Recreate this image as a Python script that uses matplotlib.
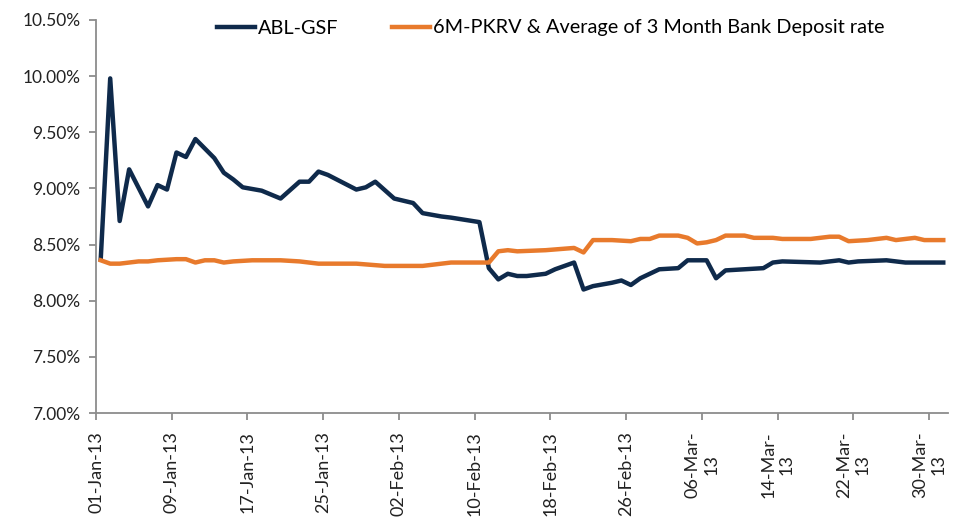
import numpy as np
import pandas as pd
import matplotlib
matplotlib.use("Agg")
import matplotlib.pyplot as plt

# ABL-GSF yield (%), daily points
abl_dates = ["2013-01-01", "2013-01-02", "2013-01-03", "2013-01-04", "2013-01-06", "2013-01-07",
             "2013-01-08", "2013-01-09", "2013-01-10", "2013-01-11", "2013-01-13", "2013-01-14",
             "2013-01-15", "2013-01-16", "2013-01-18", "2013-01-20", "2013-01-22", "2013-01-23",
             "2013-01-24", "2013-01-25", "2013-01-28", "2013-01-29", "2013-01-30", "2013-02-01",
             "2013-02-03", "2013-02-04", "2013-02-06", "2013-02-07", "2013-02-10", "2013-02-11",
             "2013-02-12", "2013-02-13", "2013-02-14", "2013-02-15", "2013-02-17", "2013-02-18",
             "2013-02-19", "2013-02-20", "2013-02-21", "2013-02-22", "2013-02-24", "2013-02-25",
             "2013-02-26", "2013-02-27", "2013-03-01", "2013-03-03", "2013-03-04", "2013-03-06",
             "2013-03-07", "2013-03-08", "2013-03-10", "2013-03-12", "2013-03-13", "2013-03-14",
             "2013-03-18", "2013-03-20", "2013-03-21", "2013-03-22", "2013-03-25", "2013-03-27",
             "2013-03-31"]
abl_vals = [8.37, 9.98, 8.71, 9.17, 8.84, 9.03,
            8.99, 9.32, 9.28, 9.44, 9.27, 9.14,
            9.08, 9.01, 8.98, 8.91, 9.06, 9.06,
            9.15, 9.12, 8.99, 9.01, 9.06, 8.91,
            8.87, 8.78, 8.75, 8.74, 8.70, 8.29,
            8.19, 8.24, 8.22, 8.22, 8.24, 8.28,
            8.31, 8.34, 8.10, 8.13, 8.16, 8.18,
            8.14, 8.20, 8.28, 8.29, 8.36, 8.36,
            8.20, 8.27, 8.28, 8.29, 8.34, 8.35,
            8.34, 8.36, 8.34, 8.35, 8.36, 8.34,
            8.34]

# benchmark: 6M-PKRV & average of 3 month bank deposit rate (%)
bench_dates = ["2013-01-01", "2013-01-02", "2013-01-03", "2013-01-05", "2013-01-06", "2013-01-07",
               "2013-01-09", "2013-01-10", "2013-01-11", "2013-01-12", "2013-01-13", "2013-01-14",
               "2013-01-15", "2013-01-17", "2013-01-20", "2013-01-22", "2013-01-24", "2013-01-28",
               "2013-01-31", "2013-02-03", "2013-02-04", "2013-02-07", "2013-02-11", "2013-02-12",
               "2013-02-13", "2013-02-14", "2013-02-17", "2013-02-20", "2013-02-21", "2013-02-22",
               "2013-02-24", "2013-02-26", "2013-02-27", "2013-02-28", "2013-03-01", "2013-03-03",
               "2013-03-04", "2013-03-05", "2013-03-06", "2013-03-07", "2013-03-08", "2013-03-10",
               "2013-03-11", "2013-03-13", "2013-03-14", "2013-03-17", "2013-03-19", "2013-03-20",
               "2013-03-21", "2013-03-23", "2013-03-25", "2013-03-26", "2013-03-28", "2013-03-29",
               "2013-03-31"]
bench_vals = [8.36, 8.33, 8.33, 8.35, 8.35, 8.36,
              8.37, 8.37, 8.34, 8.36, 8.36, 8.34,
              8.35, 8.36, 8.36, 8.35, 8.33, 8.33,
              8.31, 8.31, 8.31, 8.34, 8.34, 8.44,
              8.45, 8.44, 8.45, 8.47, 8.43, 8.54,
              8.54, 8.53, 8.55, 8.55, 8.58, 8.58,
              8.56, 8.51, 8.52, 8.54, 8.58, 8.58,
              8.56, 8.56, 8.55, 8.55, 8.57, 8.57,
              8.53, 8.54, 8.56, 8.54, 8.56, 8.54,
              8.54]

tick_dates = ["2013-01-01", "2013-01-09", "2013-01-17", "2013-01-25", "2013-02-02", "2013-02-10",
              "2013-02-18", "2013-02-26", "2013-03-06", "2013-03-14", "2013-03-22", "2013-03-30"]
tick_labels = ["01-Jan-13", "09-Jan-13", "17-Jan-13", "25-Jan-13", "02-Feb-13", "10-Feb-13",
               "18-Feb-13", "26-Feb-13", "06-Mar-\n13", "14-Mar-\n13", "22-Mar-\n13", "30-Mar-\n13"]
y_ticks = [7.0, 7.5, 8.0, 8.5, 9.0, 9.5, 10.0, 10.5]

plt.rcParams['font.family'] = ['Lato', 'DejaVu Sans']

navy = '#0F2A4B'
orange = '#E87A2C'
grey = '#8C8C8C'

# Excel date axis puts each point in the middle of its day
half = pd.Timedelta(hours=12)
abl_x = pd.to_datetime(abl_dates) + half
bench_x = pd.to_datetime(bench_dates) + half

fig = plt.figure(figsize=(9.59, 5.22), dpi=100)
ax = fig.add_axes([96/959, 1-413/522, (948-96)/959, (413-20)/522])

ax.plot(abl_x, abl_vals, color=navy, lw=3.2, solid_joinstyle='round', label='ABL-GSF')
ax.plot(bench_x, bench_vals, color=orange, lw=3.2, solid_joinstyle='round',
        label='6M-PKRV & Average of 3 Month Bank Deposit rate')

ax.set_xlim(pd.Timestamp("2013-01-01"), pd.Timestamp("2013-04-01"))
ax.set_ylim(7.0, 10.5)
ax.set_yticks(y_ticks)
ax.set_yticklabels(["%.2f%%" % v for v in y_ticks])
ax.set_xticks(pd.to_datetime(tick_dates))
ax.set_xticklabels(tick_labels)

for s in ['top', 'right']:
    ax.spines[s].set_visible(False)
for s in ['left', 'bottom']:
    ax.spines[s].set_color(grey)
    ax.spines[s].set_linewidth(1.3)
ax.tick_params(axis='both', colors=grey, labelcolor='#222222', labelsize=12.5, width=1.3, length=5)
ax.tick_params(axis='x', labelsize=13, pad=8)
ax.tick_params(axis='y', pad=6)

fig.legend(loc='center', bbox_to_anchor=(551/959, 1-28/522), ncol=2, frameon=False,
           fontsize=14.3, handlelength=1.9, handletextpad=0.15, columnspacing=2.7)

# wrapped March labels: second line centred under the first, as in Excel
fig.canvas.draw()
for t in ax.xaxis.get_major_ticks():
    t.label1.set_rotation(90)
    t.label1.set_va('top')
    t.label1.set_ha('center')
    t.label1.set_multialignment('center')

fig.savefig('out.png', dpi=100)
